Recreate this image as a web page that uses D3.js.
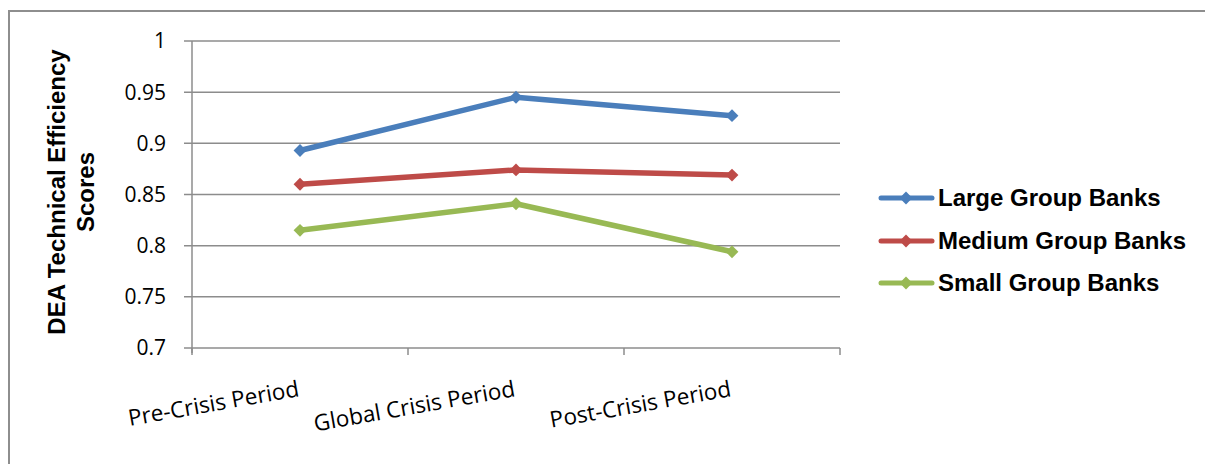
<!DOCTYPE html>
<html><head><meta charset="utf-8">
<script src="https://cdn.jsdelivr.net/npm/d3@7"></script>
<style>html,body{margin:0;padding:0;background:#fff;}svg{display:block;}</style>
</head><body>
<svg id="chart" width="1205" height="464"></svg>
<script>
const categories = ["Pre-Crisis Period", "Global Crisis Period", "Post-Crisis Period"];
const seriesNames = ["Large Group Banks", "Medium Group Banks", "Small Group Banks"];
const largeValues = [0.893, 0.945, 0.927];
const mediumValues = [0.860, 0.874, 0.869];
const smallValues = [0.815, 0.841, 0.794];
const yTicks = [0.7, 0.75, 0.8, 0.85, 0.9, 0.95, 1];
const yTickLabels = ["0.7", "0.75", "0.8", "0.85", "0.9", "0.95", "1"];
const colors = ["#4a7ebb", "#be4b48", "#98b954"];

(function () {
const series = [largeValues, mediumValues, smallValues];
const svg = d3.select("#chart");

// outer frame
svg.append("rect").attr("x", 9).attr("y", 11).attr("width", 1220).attr("height", 470)
  .attr("fill", "none").attr("stroke", "#8e8e8e").attr("stroke-width", 2);

const pLeft = 192, pRight = 840, pTop = 41, pBottom = 348;
const x = d3.scaleBand().domain(categories).range([pLeft, pRight]);
const y = d3.scaleLinear().domain([0.7, 1]).range([pBottom, pTop]);

// gridlines
svg.append("g").selectAll("line").data(yTicks).join("line")
  .attr("x1", pLeft - 8).attr("x2", pRight)
  .attr("y1", d => y(d)).attr("y2", d => y(d))
  .attr("stroke", "#8c8c8c").attr("stroke-width", 1.5);

// y axis line
svg.append("line").attr("x1", pLeft).attr("x2", pLeft).attr("y1", pTop).attr("y2", pBottom + 5)
  .attr("stroke", "#8c8c8c").attr("stroke-width", 1.5);

// x ticks
const xTickPos = categories.map(c => x(c)).concat([pRight]);
svg.append("g").selectAll("line").data(xTickPos).join("line")
  .attr("x1", d => d).attr("x2", d => d).attr("y1", pBottom).attr("y2", pBottom + 7)
  .attr("stroke", "#8c8c8c").attr("stroke-width", 1.5);

// y labels
svg.append("g").selectAll("text").data(yTicks).join("text")
  .attr("x", 166).attr("y", d => y(d))
  .attr("dy", "0.35em").attr("text-anchor", "end")
  .attr("font-family", "Open Sans, sans-serif").attr("font-size", 21).attr("fill", "#000")
  .text((d, i) => yTickLabels[i]);

// x labels rotated
svg.append("g").selectAll("text").data(categories).join("text")
  .attr("transform", d => `translate(${x(d) + x.bandwidth() / 2},${396}) rotate(-10)`)
  .attr("text-anchor", "end")
  .attr("font-family", "Open Sans, sans-serif").attr("font-size", 22.5).attr("fill", "#000")
  .text(d => d);

// y title
const yt = svg.append("text").attr("transform", "translate(0,192) rotate(-90)")
  .attr("text-anchor", "middle")
  .attr("font-family", "Liberation Sans, Arial, sans-serif").attr("font-weight", "bold")
  .attr("font-size", 24).attr("fill", "#000");
yt.append("tspan").attr("x", 0).attr("y", 65).text("DEA Technical Efficiency");
yt.append("tspan").attr("x", 0).attr("y", 94).text("Scores");

// lines
const line = d3.line().x((d, i) => x(categories[i]) + x.bandwidth() / 2).y(d => y(d));
const diamond = d3.symbol().type(d3.symbolDiamond2).size(105);
series.forEach((vals, si) => {
  svg.append("path").datum(vals).attr("d", line)
    .attr("fill", "none").attr("stroke", colors[si]).attr("stroke-width", 5.5)
    .attr("stroke-linejoin", "round");
  svg.append("g").selectAll("path").data(vals).join("path")
    .attr("transform", (d, i) => `translate(${x(categories[i]) + x.bandwidth() / 2},${y(d)})`)
    .attr("d", diamond).attr("fill", colors[si]);
});

// legend
const legendY = [198, 241, 283];
seriesNames.forEach((name, i) => {
  const g = svg.append("g");
  g.append("line").attr("x1", 881).attr("x2", 932).attr("y1", legendY[i]).attr("y2", legendY[i])
    .attr("stroke", colors[i]).attr("stroke-width", 5).attr("stroke-linecap", "round");
  g.append("path").attr("transform", `translate(906,${legendY[i]})`).attr("d", diamond).attr("fill", colors[i]);
  g.append("text").attr("x", 938).attr("y", legendY[i]).attr("dy", "0.35em")
    .attr("font-family", "Liberation Sans, Arial, sans-serif").attr("font-weight", "bold")
    .attr("font-size", 24).attr("fill", "#000").text(name);
});
})();
</script>
</body></html>
